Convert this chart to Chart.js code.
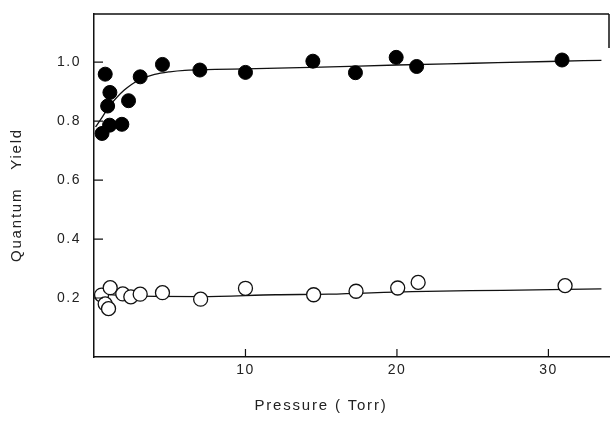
<!DOCTYPE html>
<html><head><meta charset="utf-8">
<script src="https://cdn.jsdelivr.net/npm/chart.js@4"></script>
<style>html,body{margin:0;padding:0;background:#fff}#w{width:610px;height:424px}</style>
</head><body><div id="w"><canvas id="c" width="610" height="424"></canvas></div>
<script>
// Filled circles
const filledX = [0.53, 0.74, 0.9, 1.03, 1.05, 1.84, 2.28, 3.05, 4.52, 6.99, 10.0, 14.45, 17.26, 19.95, 21.3, 30.9];
const filledY = [0.758, 0.959, 0.851, 0.786, 0.897, 0.789, 0.869, 0.950, 0.992, 0.973, 0.965, 1.003, 0.964, 1.016, 0.985, 1.007];
// Open circles
const openX = [0.5, 0.74, 0.96, 1.07, 1.9, 2.43, 3.05, 4.52, 7.04, 10.0, 14.5, 17.3, 20.05, 21.4, 31.1];
const openY = [0.21, 0.18, 0.164, 0.235, 0.214, 0.204, 0.213, 0.218, 0.196, 0.233, 0.211, 0.223, 0.234, 0.253, 0.242];
// Fitted curves
const fitFilledX = [0.1, 0.5, 1, 1.5, 2, 2.5, 3, 4, 5, 6, 8, 10, 15, 20, 25, 30, 33.5];
const fitFilledY = [0.78, 0.81, 0.85, 0.88, 0.905, 0.925, 0.94, 0.958, 0.967, 0.972, 0.975, 0.977, 0.983, 0.99, 0.996, 1.002, 1.006];
const fitOpenX = [0.3, 2, 7, 12, 15.5, 21, 27, 33.5];
const fitOpenY = [0.215, 0.208, 0.205, 0.211, 0.213, 0.222, 0.226, 0.231];
const xTicks = [10, 20, 30];
const yTicks = [0.2, 0.4, 0.6, 0.8, 1.0];
const xTitle = 'Pressure ( Torr)';
const yTitle = 'Quantum   Yield';

const pts = (xs, ys) => xs.map((x, i) => ({x, y: ys[i]}));
const FONT = '"Liberation Sans", Arial, sans-serif';
const INK = '#111';

const framePlugin = {
  id: 'frame',
  beforeInit(chart) { chart.ctx.letterSpacing = '1.5px'; },
  beforeDraw(chart) { chart.ctx.letterSpacing = '1.5px'; },
  afterDraw(chart) {
    const ctx = chart.ctx, a = chart.chartArea;
    const xs = chart.scales.x, ys = chart.scales.y;
    ctx.save();
    ctx.strokeStyle = INK; ctx.lineWidth = 1.5;
    ctx.beginPath();
    ctx.moveTo(a.left, a.top); ctx.lineTo(a.right, a.top);
    ctx.moveTo(a.right, a.top); ctx.lineTo(a.right, a.top + 34);
    ctx.stroke();
    ctx.lineWidth = 1.2;
    ctx.beginPath();
    xs.ticks.forEach(t => { const p = xs.getPixelForValue(t.value); ctx.moveTo(p, a.bottom); ctx.lineTo(p, a.bottom - 8); });
    ys.ticks.forEach(t => { const p = ys.getPixelForValue(t.value); ctx.moveTo(a.left, p); ctx.lineTo(a.left + 9, p); });
    ctx.stroke();
    ctx.fillStyle = '#222';
    ctx.font = '15px ' + FONT;
    ctx.letterSpacing = '1.8px';
    ctx.textAlign = 'center'; ctx.textBaseline = 'middle';
    ctx.fillText(xTitle, 321, 406);
    ctx.translate(17, 195); ctx.rotate(-Math.PI / 2);
    ctx.fillText(yTitle, 0, 0);
    ctx.restore();
  }
};

new Chart(document.getElementById('c'), {
  type: 'scatter',
  data: {
    datasets: [
      {data: pts(filledX, filledY), pointRadius: 7, pointBackgroundColor: '#000', pointBorderColor: '#000', pointBorderWidth: 1, order: 1},
      {data: pts(openX, openY), pointRadius: 7, pointBackgroundColor: '#fff', pointBorderColor: '#111', pointBorderWidth: 1.3, order: 2},
      {data: pts(fitFilledX, fitFilledY), showLine: true, pointRadius: 0, borderColor: '#111', borderWidth: 1.3, cubicInterpolationMode: 'monotone', order: 3},
      {data: pts(fitOpenX, fitOpenY), showLine: true, pointRadius: 0, borderColor: '#111', borderWidth: 1.3, cubicInterpolationMode: 'monotone', order: 4}
    ]
  },
  options: {
    responsive: false, animation: false,
    layout: {autoPadding: false, padding: {top: 14, right: 1, left: 0, bottom: 0}},
    plugins: {legend: {display: false}, tooltip: {enabled: false}},
    scales: {
      x: {
        type: 'linear', min: 0, max: 34,
        afterBuildTicks: s => { s.ticks = xTicks.map(v => ({value: v})); },
        afterFit: s => { s.height = 67; s.paddingLeft = 0; s.paddingRight = 0; },
        grid: {display: false, drawTicks: false},
        border: {display: true, color: INK, width: 1.5},
        ticks: {color: '#222', font: {family: FONT, size: 14}, padding: 5, callback: v => String(v), maxRotation: 0}
      },
      y: {
        type: 'linear', min: 0, max: 1.163,
        afterBuildTicks: s => { s.ticks = yTicks.map(v => ({value: v})); },
        afterFit: s => { s.width = 94; s.paddingTop = 0; s.paddingBottom = 0; },
        grid: {display: false, drawTicks: false},
        border: {display: true, color: INK, width: 1.5},
        ticks: {color: '#222', font: {family: FONT, size: 14}, padding: 13, callback: v => v.toFixed(1)}
      }
    }
  },
  plugins: [framePlugin]
});
</script></body></html>
